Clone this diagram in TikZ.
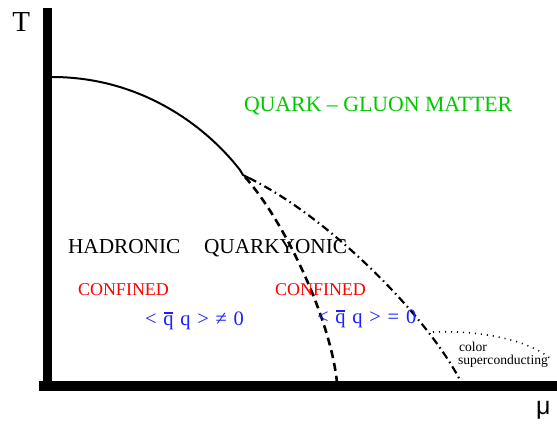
\documentclass[tikz,border=0pt]{standalone}
\usepackage{fontspec}
\setmainfont{Liberation Serif}
\newfontfamily\mufont{Liberation Sans}
\definecolor{qgreen}{RGB}{0,200,0}
\definecolor{qred}{RGB}{255,0,0}
\definecolor{qblue}{RGB}{30,30,255}
\newcommand\qbr{\ooalign{q\cr\hidewidth\raisebox{0.56em}{\rule{0.42em}{0.06em}}\hidewidth\cr}}
\newcommand\wsp{\hspace{0.33em}}
\tikzset{
  lbl/.style={anchor=base west, inner sep=0pt, outer sep=0pt},
  big/.style={lbl, font=\fontsize{21.3}{24}\selectfont},
  mid/.style={lbl, font=\fontsize{18}{21}\selectfont, text=qred},
  cond/.style={lbl, font=\fontsize{20.5}{24}\selectfont, text=qblue},
  small/.style={lbl, font=\fontsize{13.6}{12}\selectfont},
  axisbar/.style={fill=black, draw=none},
  dashline/.style={line width=2.6pt, dash pattern=on 8pt off 5pt},
  dashdotline/.style={line width=2.2pt, dash pattern=on 8pt off 4pt on 1.5pt off 4pt},
  dotline/.style={line width=1.6pt, dash pattern=on 1pt off 5pt},
}
\begin{document}
\begin{tikzpicture}[x=1pt,y=-1pt]
\useasboundingbox (0,0) rectangle (557,425);
% axes
\fill[axisbar] (43,8) rectangle (52.3,391);
\fill[axisbar] (39,381) rectangle (557,391);
\node[lbl, font=\fontsize{29}{32}\selectfont] (T) at (12.5,32) {T};
\node[lbl, font=\mufont\fontsize{25}{28}\selectfont] (mu) at (536,414) {μ};
% phase boundary
\coordinate (top) at (52,77);
\coordinate (cep) at (243,175);
\coordinate (fork) at (249,178);
\draw[line width=2pt] (top) .. controls (140,77) and (205,125) .. (240,170) -- (cep) -- (fork);
% quarkyonic (dashed)
\coordinate (qyend) at (337,383);
\draw[dashline] (245,177) .. controls (285,222) and (331,320) .. (qyend);
% deconfinement (dash-dot)
\coordinate (ddend) at (461,382);
\draw[dashdotline] (fork) .. controls (330,218) and (428,317) .. (ddend);
% colour superconducting (dotted)
\draw[dotline] (433,332) .. controls (480,330) and (530,340) .. (552,360);
% labels
\node[big, text=qgreen, font=\fontsize{21.8}{24}\selectfont] (qgm) at (244,112) {QUARK – GLUON MATTER};
\node[big] (had) at (68,253) {HADRONIC};
\node[big] (qky) at (204,253) {QUARKYONIC};
\node[mid] (conf1) at (78,295) {CONFINED};
\node[mid] (conf2) at (275,295) {CONFINED};
\node[cond] (cc1) at (145,325) {<\wsp\qbr\wsp q\wsp>\wsp≠\wsp0};
\node[cond] (cc2) at (317,323) {<\wsp\qbr\wsp q\wsp>\wsp=\wsp0};
\node[small] (col) at (459,351) {color};
\node[small] (sc) at (458,364) {superconducting};
\end{tikzpicture}
\end{document}
